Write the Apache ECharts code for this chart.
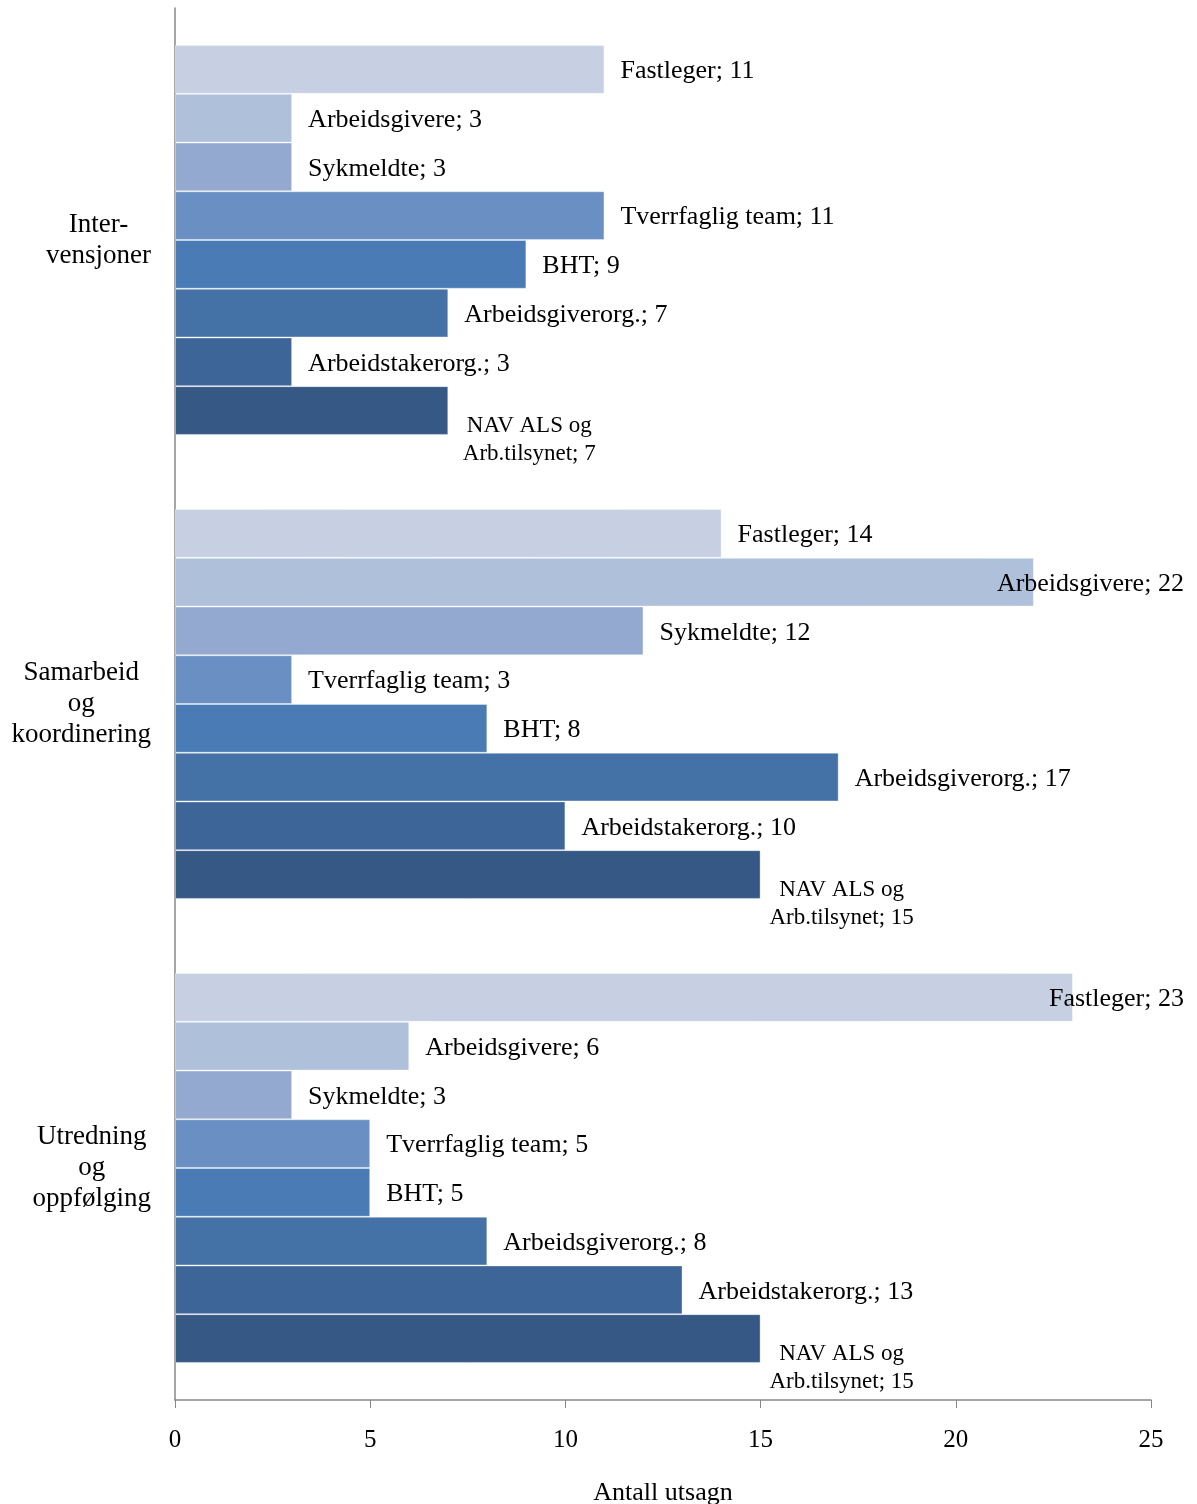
<!DOCTYPE html>
<html>
<head>
<meta charset="utf-8">
<script src="https://cdn.jsdelivr.net/npm/echarts@6/dist/echarts.min.js"></script>
<style>
  html, body { margin: 0; padding: 0; background: #fff; }
  #chart { width: 1197px; height: 1504px; }
</style>
</head>
<body>
<div id="chart"></div>
<script>
// categories, top to bottom
const categories = ['Inter-\nvensjoner', 'Samarbeid\nog\nkoordinering', 'Utredning\nog\noppfølging'];

// one list of values per actor, same order as categories
const fastleger = [11, 14, 23];
const arbeidsgivere = [3, 22, 6];
const sykmeldte = [3, 12, 3];
const tverrfaglig = [11, 3, 5];
const bht = [9, 8, 5];
const arbeidsgiverorg = [7, 17, 8];
const arbeidstakerorg = [3, 10, 13];
const navAls = [7, 15, 15];

const xTicks = [0, 5, 10, 15, 20, 25];

const seriesDefs = [
    {name: 'Fastleger', data: fastleger, color: '#c7d0e3'},
    {name: 'Arbeidsgivere', data: arbeidsgivere, color: '#afc0da'},
    {name: 'Sykmeldte', data: sykmeldte, color: '#94a9d0'},
    {name: 'Tverrfaglig team', data: tverrfaglig, color: '#6a8fc3'},
    {name: 'BHT', data: bht, color: '#4a7bb5'},
    {name: 'Arbeidsgiverorg.', data: arbeidsgiverorg, color: '#4472a6'},
    {name: 'Arbeidstakerorg.', data: arbeidstakerorg, color: '#3e6598'},
    {name: 'NAV ALS og Arb.tilsynet', data: navAls, color: '#365885'}
];

// labels that would run past the plot get pulled back over the bar
const labelPullBack = {'Arbeidsgivere-1': -53, 'Fastleger-2': -40};

const font = 'Liberation Serif';

let series = seriesDefs.map(function (s, si) {
    let isNav = si === seriesDefs.length - 1;
    return {
        name: s.name,
        type: 'bar',
        barGap: '0%',
        barCategoryGap: '16%',
        itemStyle: {color: s.color, borderColor: 'rgba(255,255,255,0.35)', borderWidth: 1},
        label: isNav ? {
            show: true,
            position: 'right',
            distance: 10,
            align: 'center',
            offset: [71, 29],
            fontFamily: font,
            fontSize: 23,
            lineHeight: 28,
            color: '#000',
            formatter: 'NAV ALS og\nArb.tilsynet; {c}'
        } : {
            show: true,
            position: 'right',
            distance: 16,
            offset: [0, 2],
            fontFamily: font,
            fontSize: 26,
            color: '#000',
            formatter: '{a}; {c}'
        },
        data: s.data.map(function (v, i) {
            let shift = labelPullBack[s.name + '-' + i];
            if (shift === undefined) return v;
            return {value: v, label: {offset: [shift, 2]}};
        })
    };
});

let myChart = echarts.init(document.getElementById('chart'));

let option = {
    backgroundColor: '#fff',
    animation: false,
    grid: {left: 175, right: 46, top: 8, bottom: 104, outerBoundsMode: 'none', containLabel: false},
    xAxis: {
        type: 'value',
        min: xTicks[0],
        max: xTicks[xTicks.length - 1],
        interval: 5,
        name: 'Antall utsagn',
        nameLocation: 'middle',
        nameGap: 80,
        nameTextStyle: {fontFamily: font, fontSize: 26, color: '#000'},
        axisLine: {show: true, lineStyle: {color: '#888', width: 1.5}},
        axisTick: {show: true, length: 8, lineStyle: {color: '#888'}},
        axisLabel: {fontFamily: font, fontSize: 25, color: '#000', margin: 28},
        splitLine: {show: false}
    },
    yAxis: {
        type: 'category',
        inverse: true,
        data: categories,
        axisLine: {show: true, lineStyle: {color: '#888', width: 1.5}},
        axisTick: {show: false},
        axisLabel: {
            align: 'right',
            margin: 24,
            formatter: function (v) {
                return v.split('\n').map(function (l) { return '{c|' + l + '}'; }).join('\n');
            },
            rich: {
                c: {fontFamily: font, fontSize: 27, lineHeight: 31, color: '#000', align: 'center'}
            }
        }
    },
    series: series
};

myChart.setOption(option);
</script>
</body>
</html>
